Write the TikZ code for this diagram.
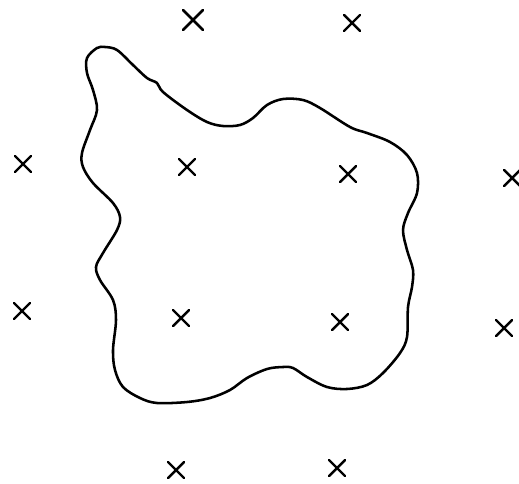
\documentclass[tikz,border=0pt]{standalone}
\usepackage{tikz}
\usetikzlibrary{shapes.misc}

\begin{document}
\begin{tikzpicture}[
    x=0.02cm, y=-0.02cm,
    style={line cap=round, line join=round},
    cross/.style={cross out, draw, line width=1.4pt, minimum size=0.27cm, inner sep=0pt},
    bigcross/.style={cross, line width=1.6pt, minimum size=0.34cm}
]
\useasboundingbox (0,0) rectangle (519,483);

  % The blob
  \draw[line width=1.45pt] plot[smooth cycle, tension=0.55] coordinates {
    (105,47) (117,50) (133,65) (147,78) (157,83) (163,92) (187,110) (207,122)
    (223,126) (240,125) (253,118) (267,105) (283,99) (303,100) (320,108)
    (350,127) (367,133) (390,142) (407,155) (417,173) (417,193) (408,213)
    (403,230) (407,250) (413,270) (412,287) (408,307) (407,337) (400,353)
    (383,373) (367,385) (347,389) (327,387) (307,377) (293,368) (283,367)
    (267,369) (247,378) (230,390) (210,398) (187,402) (157,403) (140,398)
    (123,387) (115,370) (113,350) (116,320) (113,300) (100,280) (96,267)
    (103,253) (117,230) (120,217) (113,203) (93,183) (83,167) (82,153)
    (90,130) (97,110) (93,90) (87,73) (87,58) (97,48)};

  % Crosses inside
  \node[cross] (in1) at (187,167) {};
  \node[cross] (in2) at (348,174) {};
  \node[cross] (in3) at (181,318) {};
  \node[cross] (in4) at (340,322) {};

  % Crosses outside
  \node[bigcross] (out1) at (193,20) {};
  \node[cross] (out2) at (352,23) {};
  \node[cross] (out3) at (23,164) {};
  \node[cross] (out4) at (512,178) {};
  \node[cross] (out5) at (22,311) {};
  \node[cross] (out6) at (504,328) {};
  \node[cross] (out7) at (176,470) {};
  \node[cross] (out8) at (337,468) {};
\end{tikzpicture}
\end{document}
